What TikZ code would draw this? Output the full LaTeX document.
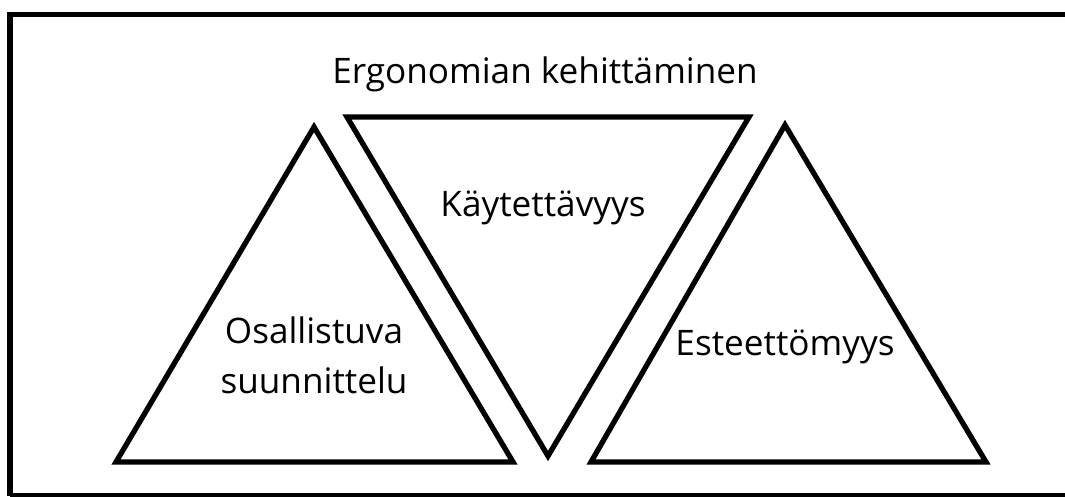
\documentclass[tikz,border=0pt]{standalone}
\usepackage{fontspec}
\setmainfont{Open Sans}

\begin{document}
\begin{tikzpicture}[
  line join=miter,
  frame/.style={line width=1.45pt},
  tri/.style={line width=1.5pt},
  lbl/.style={font=\fontsize{10}{14.2}\selectfont, align=center, inner sep=0pt, anchor=base}
]
  \useasboundingbox (0,0) rectangle (10.65,-4.96);
  \clip (0,0) rectangle (10.65,-4.96);

  %outer frame (right side cut off)
  \draw[frame] (0.10,-4.955) -- (0.10,-0.145) -- (10.80,-0.145);
  \draw[frame] (0.10,-4.955) -- (10.80,-4.955);

  %triangles
  \draw[tri] (1.16,-4.62) -- (3.14,-1.27) -- (5.13,-4.62) -- cycle;
  \draw[tri] (3.47,-1.17) -- (7.49,-1.17) -- (5.48,-4.56) -- cycle;
  \draw[tri] (5.91,-4.62) -- (7.85,-1.25) -- (9.86,-4.62) -- cycle;

  %labels
  \node[lbl] (title) at (5.45,-0.83) {Ergonomian kehittäminen};
  \node[lbl] (kaytto) at (5.43,-2.16) {Käytettävyys};
  \node[lbl] (osall) at (3.14,-3.93) {Osallistuva\\suunnittelu};
  \node[lbl] (esteet) at (7.85,-3.55) {Esteettömyys};
\end{tikzpicture}
\end{document}
